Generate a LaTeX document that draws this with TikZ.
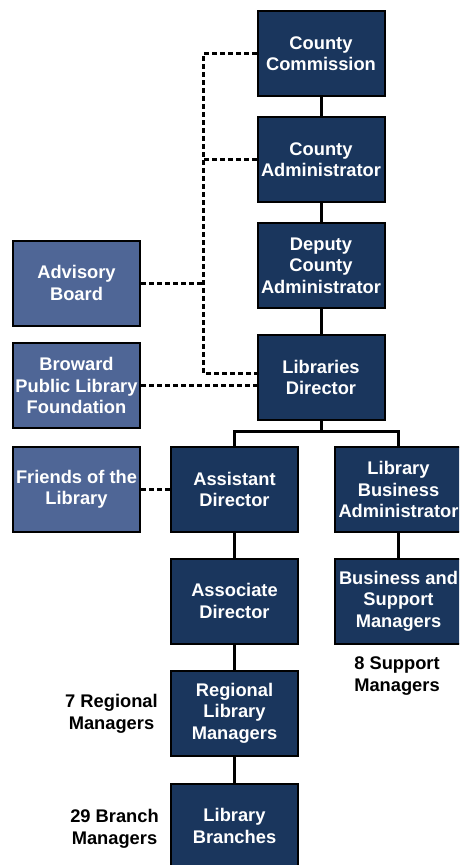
\documentclass[tikz,border=0pt]{standalone}
\usepackage{fontspec}
\setmainfont{Liberation Sans}

\definecolor{navy}{RGB}{26,54,93}
\definecolor{slate}{RGB}{79,102,150}

\begin{document}
	\begin{tikzpicture}[
		x=1pt, y=-1pt,
		font=\fontsize{18.3}{21.5}\selectfont\bfseries,
		post/.style={
			rectangle, draw=black, line width=2pt, fill=navy, text=white,
			align=center, inner sep=0pt,
			minimum width=127pt, minimum height=85pt
		},
		board/.style={post, fill=slate},
		count/.style={align=center, text=black},
		line/.style={line width=3pt},
		link/.style={line width=3pt, dash pattern=on 5pt off 3pt}
	]
		\useasboundingbox (0,0) rectangle (459,865);
		\clip (0,0) rectangle (459,865);

		\node[post] (CC) at (321,53.5) {County\\Commission};
		\node[post] (CA) at (321,159.5) {County\\Administrator};
		\node[post] (DCA) at (321,265.5) {Deputy\\County\\Administrator};
		\node[post] (LD) at (321,377.5) {Libraries\\Director};

		\node[board] (AB) at (76.5,283) {Advisory\\Board};
		\node[board] (BF) at (76.5,385.5) {Broward\\Public Library\\Foundation};
		\node[board] (FL) at (76.5,489.5) {Friends of the\\Library};

		\node[post] (AsD) at (234.5,489.5) {Assistant\\Director};
		\node[post] (LBA) at (398.5,489.5) {Library\\Business\\Administrator};
		\node[post] (AcD) at (234.5,601) {Associate\\Director};
		\node[post] (BSM) at (398.5,601) {Business and\\Support\\Managers};
		\node[post] (RLM) at (234.5,713) {Regional\\Library\\Managers};
		\node[post] (LB) at (234.5,826) {Library\\Branches};

		\node[count] (SM) at (397,676) {8 Support\\Managers};
		\node[count] (RM) at (111.5,714) {7 Regional\\Managers};
		\node[count] (BM) at (114.5,829) {29 Branch\\Managers};

		\coordinate (top) at (203,53.5);
		\coordinate (bend) at (203,373);
		\coordinate (fork) at (321,431);

		\draw[line] (CC) -- (CA) -- (DCA) -- (LD);
		\draw[line] (LD.south) -- (fork) -| (AsD.north);
		\draw[line] (fork) -| (LBA.north);
		\draw[line] (AsD) -- (AcD) -- (RLM) -- (LB);
		\draw[line] (LBA) -- (BSM);

		\draw[link] (CC.west) -- (top) -- (bend) -- (bend -| LD.west);
		\draw[link] (CA.west) -- (CA.west -| top);
		\draw[link] (AB.east) -- (AB.east -| top);
		\draw[link] (BF.east) -- (BF.east -| LD.west);
		\draw[link] (FL) -- (AsD);
	\end{tikzpicture}
\end{document}
